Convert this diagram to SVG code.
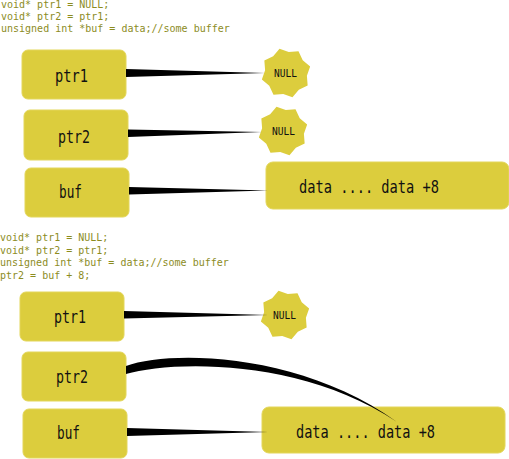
<svg xmlns="http://www.w3.org/2000/svg" xmlns:xlink="http://www.w3.org/1999/xlink" width="509" height="459" viewBox="0 0 509 459">
<style>
.code{font-family:"DejaVu Sans Mono","Liberation Mono",monospace;font-size:10px;fill:#8c8c1e}
.box{fill:#dccd3d;stroke:#e3d65a;stroke-width:1}
.star{fill:#dccd3d}
.lbl{font-family:"DejaVu Sans Mono","Liberation Mono",monospace;font-size:18px;fill:#111;text-anchor:middle}
.nul{font-family:"DejaVu Sans Mono","Liberation Mono",monospace;font-size:10px;fill:#111;text-anchor:middle}
.wedge{fill:#000}
</style>
<defs>
<polygon id="starShape" points="-6.47,-24.15 2.75,-20.9 12.5,-21.65 16.73,-12.84 24.15,-6.47 20.9,2.75 21.65,12.5 12.84,16.73 6.47,24.15 -2.75,20.9 -12.5,21.65 -16.73,12.84 -24.15,6.47 -20.9,-2.75 -21.65,-12.5 -12.84,-16.73"/>
</defs>
<rect width="509" height="459" fill="#fff"/>
<g id="code1">
<text class="code" x="1" y="7.5">void* ptr1 = NULL;</text>
<text class="code" x="1" y="19.5">void* ptr2 = ptr1;</text>
<text class="code" x="1" y="31.5">unsigned int *buf = data;//some buffer</text>
</g>
<g id="code2">
<text class="code" x="0" y="241">void* ptr1 = NULL;</text>
<text class="code" x="0" y="253.5">void* ptr2 = ptr1;</text>
<text class="code" x="0" y="266">unsigned int *buf = data;//some buffer</text>
<text class="code" x="0" y="278.5">ptr2 = buf + 8;</text>
</g>
<g id="nodes-top">
<g id="t-ptr1"><rect class="box" x="22" y="50" width="104" height="49" rx="6"/><text class="lbl" x="71.5" y="82" textLength="33" lengthAdjust="spacingAndGlyphs">ptr1</text></g>
<g id="t-ptr2"><rect class="box" x="24" y="110" width="104" height="50" rx="6"/><text class="lbl" x="74" y="142.5" textLength="32" lengthAdjust="spacingAndGlyphs">ptr2</text></g>
<g id="t-buf"><rect class="box" x="25" y="168" width="104" height="49" rx="6"/><text class="lbl" x="70.5" y="198" textLength="23" lengthAdjust="spacingAndGlyphs">buf</text></g>
<g id="t-data"><rect class="box" x="266" y="162" width="243" height="47" rx="7"/><text class="lbl" x="369" y="193" textLength="140" lengthAdjust="spacingAndGlyphs">data .... data +8</text></g>
<g id="t-null1"><use xlink:href="#starShape" class="star" transform="translate(286,73)"/><text class="nul" x="285.5" y="77" textLength="23" lengthAdjust="spacingAndGlyphs">NULL</text></g>
<g id="t-null2"><use xlink:href="#starShape" class="star" transform="translate(283,131)"/><text class="nul" x="283.5" y="134.5" textLength="23" lengthAdjust="spacingAndGlyphs">NULL</text></g>
</g>
<g id="nodes-bottom">
<g id="b-ptr1"><rect class="box" x="20" y="292" width="104" height="49" rx="6"/><text class="lbl" x="70" y="323" textLength="32" lengthAdjust="spacingAndGlyphs">ptr1</text></g>
<g id="b-ptr2"><rect class="box" x="22" y="352" width="104" height="49" rx="6"/><text class="lbl" x="72" y="383" textLength="32" lengthAdjust="spacingAndGlyphs">ptr2</text></g>
<g id="b-buf"><rect class="box" x="23" y="409" width="104" height="49" rx="6"/><text class="lbl" x="68.5" y="439" textLength="23" lengthAdjust="spacingAndGlyphs">buf</text></g>
<g id="b-data"><rect class="box" x="262" y="407" width="243" height="46" rx="7"/><text class="lbl" x="365.5" y="437.5" textLength="139" lengthAdjust="spacingAndGlyphs">data .... data +8</text></g>
<g id="b-null1"><use xlink:href="#starShape" class="star" transform="translate(285,315)"/><text class="nul" x="284.5" y="319" textLength="23" lengthAdjust="spacingAndGlyphs">NULL</text></g>
</g>
<g id="connectors">
<path class="wedge" d="M126,69 L265,73 L126,77 Z"/>
<path class="wedge" d="M128,129.5 L262,132 L128,137 Z"/>
<path class="wedge" d="M129,187 L268,190.5 L129,194.5 Z"/>
<path class="wedge" d="M124,311 L268,315 L124,318.5 Z"/>
<path class="wedge" d="M126,366 C170,350 300,352 397,422 C300,357 170,361 126,374 Z"/>
<path class="wedge" d="M127,428 L268,432 L127,436 Z"/>
</g>
</svg>
